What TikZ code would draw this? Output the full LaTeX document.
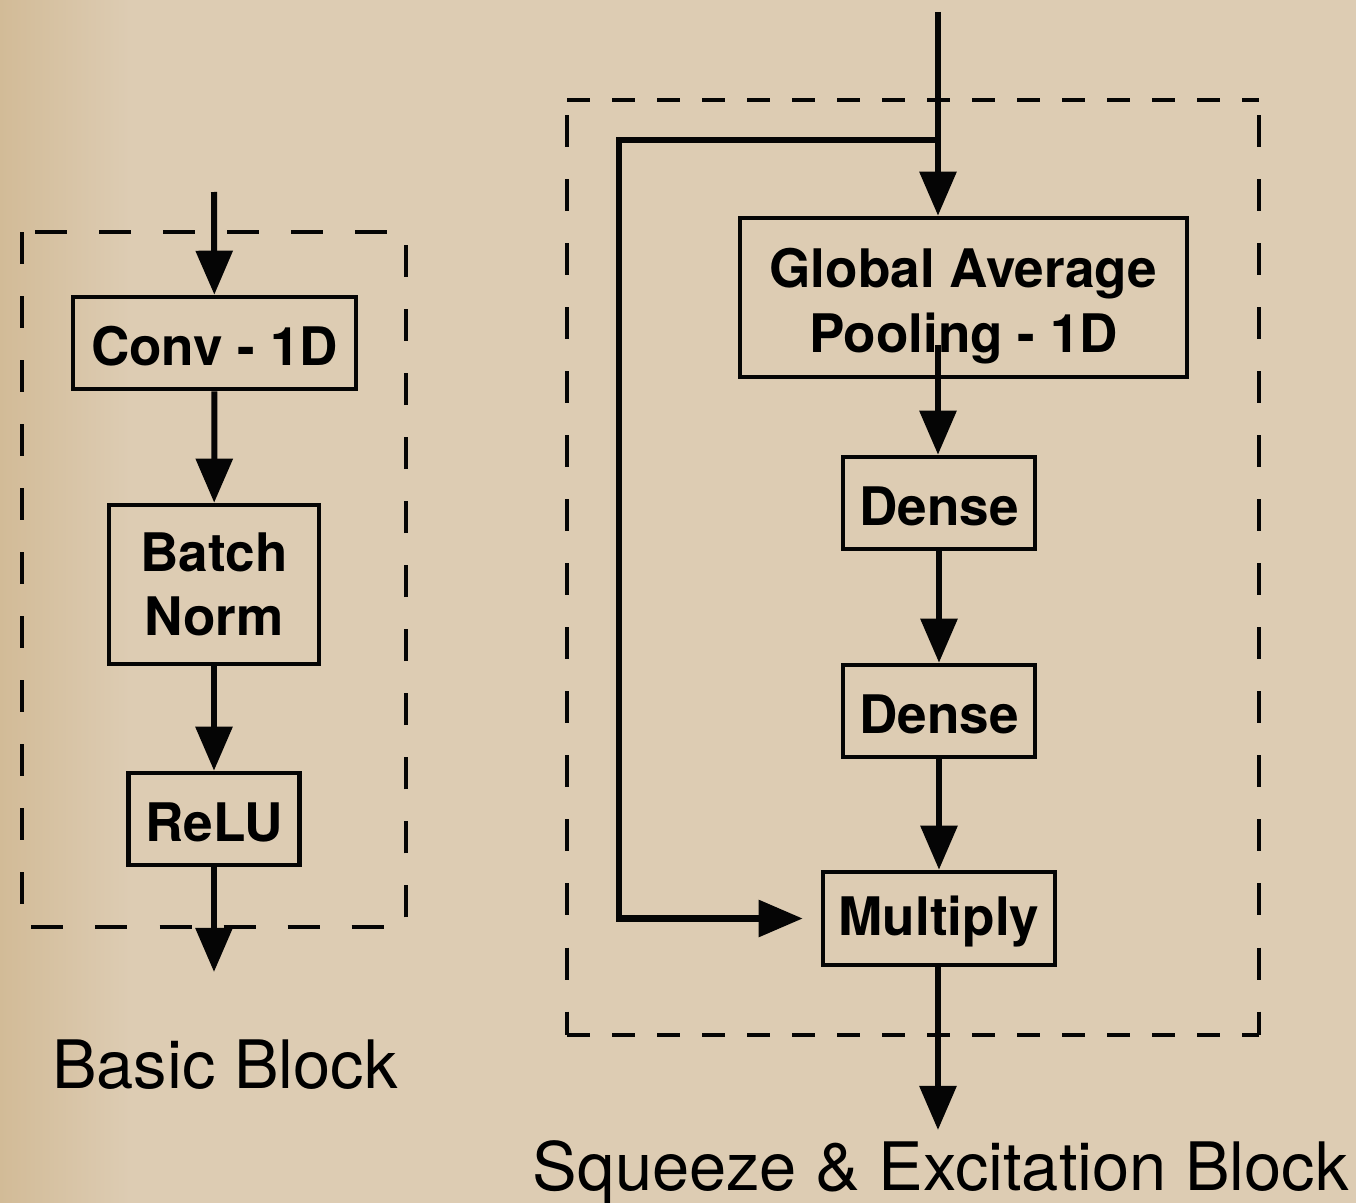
\documentclass[tikz,border=0pt]{standalone}
\usepackage{fontspec}
\setmainfont{TeX Gyre Heros}
\usetikzlibrary{positioning, arrows.meta, calc}
\definecolor{paper}{HTML}{DDCCB3}
\definecolor{paperdark}{HTML}{D2BB97}
\definecolor{ink}{HTML}{050505}

\begin{document}
\begin{tikzpicture}[x=0.01cm, y=-0.01cm,
    layer/.style={draw=ink, line width=0.045cm, inner sep=0pt, align=center,
                  font=\fontsize{15.1pt}{18.3pt}\selectfont\bfseries,
                  execute at begin node=\rule{0pt}{13pt}},
    flow/.style={draw=ink, line width=0.06cm,
                 -{Triangle[length=0.44cm, width=0.36cm]}},
    frame/.style={draw=ink, line width=0.048cm, dash pattern=on 0.32cm off 0.32cm},
    caption/.style={font=\fontsize{19pt}{23pt}\selectfont, anchor=base}]

  % paper background, a bit darker at the left edge
  \fill[paper] (0,0) rectangle (1356,1203);
  \shade[left color=paperdark, right color=paper] (0,0) rectangle (130,1203);
  \useasboundingbox (0,0) rectangle (1356,1203);

  % basic block
  \draw[frame] (22,232) rectangle (406,927);
  \coordinate (bin) at (214,192);
  \node[layer, minimum width=2.83cm, minimum height=0.92cm] (conv) at (214.5,343) {Conv - 1D};
  \node[layer, minimum width=2.10cm, minimum height=1.59cm] (bn) at (214,584.5) {Batch\\Norm};
  \node[layer, minimum width=1.71cm, minimum height=0.92cm] (relu) at (214,819) {ReLU};
  \coordinate (bout) at (214,972);
  \draw[flow] (bin) -- (conv);
  \draw[flow] (conv) -- (bn);
  \draw[flow] (bn) -- (relu);
  \draw[flow] (relu) -- (bout);
  \node[caption] (basiclbl) at (225,1088) {Basic Block};

  % squeeze & excitation block
  \draw[ink, line width=0.048cm, dash pattern=on 0.23cm off 0.22cm]
    (567,100) -- (1259,100) (567,1035) -- (1259,1035);
  \draw[frame] (567,115) -- (567,1035) (1259,115) -- (1259,1035);
  \coordinate (sein) at (938,12);
  \coordinate (split) at (938,140);
  \coordinate (skip) at (619,140);
  \node[layer, minimum width=4.47cm, minimum height=1.59cm, text width=4.3cm,
        align=flush center, execute at begin node=\rule{0pt}{16pt}]
        (gap) at (963.5,297.5) {Global Average\\Pooling - 1D};
  \node[layer, minimum width=1.92cm, minimum height=0.92cm] (dense1) at (939,503) {Dense};
  \node[layer, minimum width=1.92cm, minimum height=0.92cm] (dense2) at (939,711) {Dense};
  \node[layer, minimum width=2.32cm, minimum height=0.93cm] (mult) at (939,918.5) {Multiply};
  \coordinate (seout) at (938,1130);
  \coordinate (gapin) at (938,345);
  \draw[flow] (sein) -- (sein |- gap.north);
  \draw[flow] (gapin) -- (dense1.north -| gapin);
  \draw[flow] (dense1) -- (dense2);
  \draw[flow] (dense2) -- (mult);
  \draw[flow] (split) -- (skip) |- ([xshift=-0.18cm]mult.west);
  \draw[flow] (mult.south -| seout) -- (seout);
  \node[caption] (selbl) at (941,1190) {Squeeze \& Excitation Block};
\end{tikzpicture}
\end{document}
